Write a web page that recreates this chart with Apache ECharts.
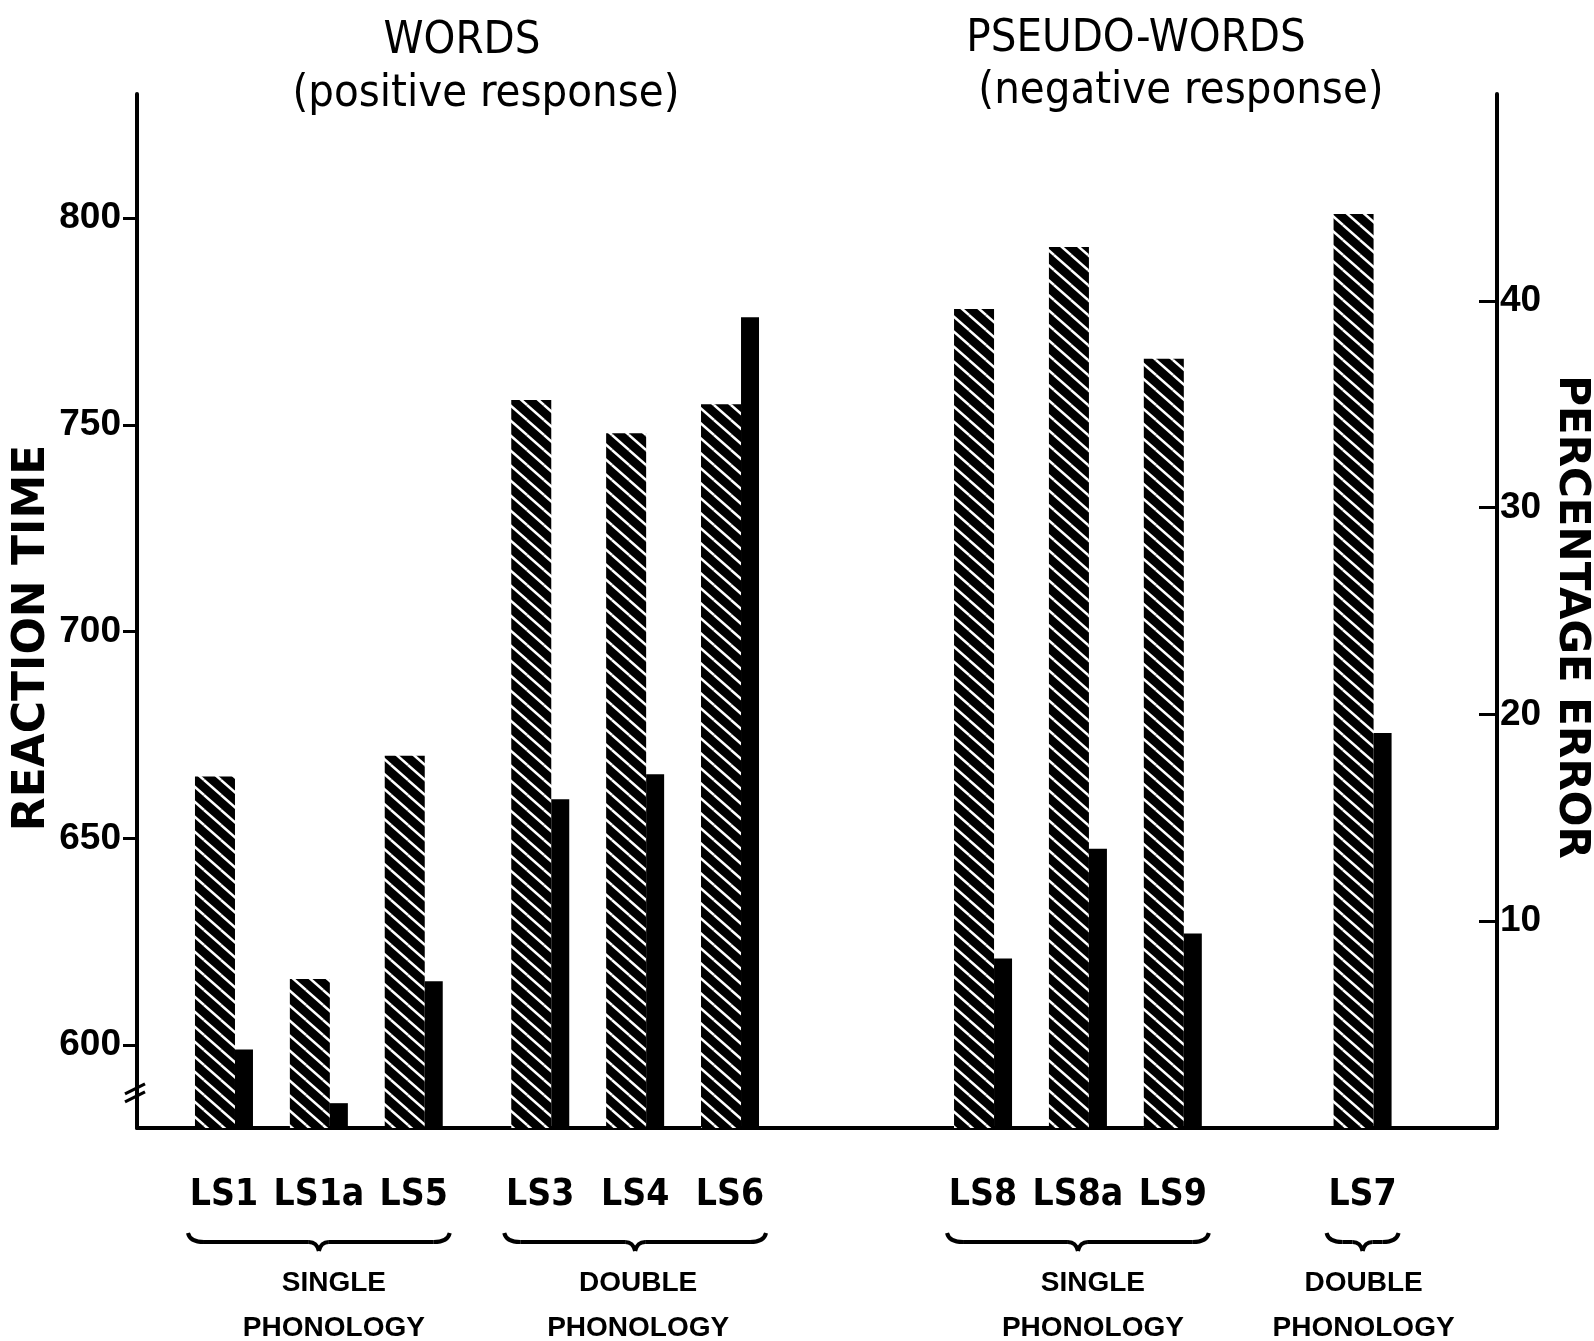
<!DOCTYPE html>
<html><head><meta charset="utf-8">
<script src="https://cdn.jsdelivr.net/npm/echarts@6/dist/echarts.min.js"></script>
<style>html,body{margin:0;padding:0;background:#fff}#c{width:1594px;height:1341px}</style>
</head><body><div id="c"></div>
<script>
// ---- data ----
const categories = ['LS1','LS1a','LS5','LS3','LS4','LS6','LS8','LS8a','LS9','LS7'];
const reactionTime = [665, 616, 670, 756, 748, 755, 778, 793, 766, 801];
const percentError = [3.8, 1.2, 7.1, 15.9, 17.1, 39.2, 8.2, 13.5, 9.4, 19.1];
const leftTicks = [600, 650, 700, 750, 800];
const rightTicks = [10, 20, 30, 40];
const leftAxisTitle = 'REACTION TIME';
const rightAxisTitle = 'PERCENTAGE ERROR';
const panelTitles = [['WORDS', '(positive response)'], ['PSEUDO-WORDS', '(negative response)']];
const groupNames = [['SINGLE', 'PHONOLOGY'], ['DOUBLE', 'PHONOLOGY'], ['SINGLE', 'PHONOLOGY'], ['DOUBLE', 'PHONOLOGY']];
const groupMembers = [['LS1', 'LS5'], ['LS3', 'LS6'], ['LS8', 'LS9'], ['LS7', 'LS7']];

// ---- layout (empty category slots between bars) ----
const leadSlots = 5, trailSlots = 8;
const stepSlots = [6, 6, 8, 6, 6, 16, 6, 6, 12];
const groupLabelShift = [15, 3, 15, 1];

const axisData = [], rtData = [], peData = [], catIndex = {};
let filler = 0;
function addFiller(n) { for (let i = 0; i < n; i++) { axisData.push('_' + (filler++)); rtData.push('-'); peData.push('-'); } }
addFiller(leadSlots);
categories.forEach((c, k) => {
  catIndex[c] = axisData.length;
  axisData.push(c); rtData.push(reactionTime[k]); peData.push(percentError[k]);
  addFiller(k < stepSlots.length ? stepSlots[k] - 1 : trailSlots);
});

// hatch pattern
const pw = 17, ph = 15;
const pat = document.createElement('canvas');
pat.width = pw; pat.height = ph;
const g = pat.getContext('2d');
g.fillStyle = '#000'; g.fillRect(0, 0, pw, ph);
g.strokeStyle = '#fff'; g.lineWidth = 2.5;
for (let dx = -1; dx <= 1; dx++) for (let dy = -1; dy <= 1; dy++) {
  g.beginPath(); g.moveTo(dx * pw, dy * ph); g.lineTo((dx + 1) * pw, (dy + 1) * ph); g.stroke();
}

const tickFont = { fontFamily: '"Liberation Sans", Arial, sans-serif', fontSize: 37, fontWeight: 'bold', color: '#000' };
const narrowFam = '"Liberation Sans Narrow", "DejaVu Sans Condensed", "Liberation Sans", sans-serif';

const chart = echarts.init(document.getElementById('c'), null, { renderer: 'canvas' });
chart.setOption({
  animation: false,
  backgroundColor: '#fff',
  grid: { left: 137, right: 97, top: 94, bottom: 213 },
  xAxis: {
    type: 'category', data: axisData, boundaryGap: true,
    axisLine: { show: true, lineStyle: { color: '#000', width: 4 } },
    axisTick: { show: false },
    axisLabel: {
      interval: 0, margin: 49, fontFamily: narrowFam, fontSize: 37, fontWeight: 'bold', color: '#000',
      formatter: v => v.charAt(0) === '_' ? '' : v
    },
    splitLine: { show: false }
  },
  yAxis: [
    {
      type: 'value', min: 580, max: 830, position: 'left',
      axisLine: { show: true, lineStyle: { color: '#000', width: 4 } },
      axisTick: { show: true, customValues: leftTicks, length: 14, lineStyle: { color: '#000', width: 3 } },
      axisLabel: Object.assign({ customValues: leftTicks, margin: 16 }, tickFont),
      splitLine: { show: false }
    },
    {
      type: 'value', min: 0, max: 50, position: 'right',
      axisLine: { show: true, lineStyle: { color: '#000', width: 4 } },
      axisTick: { show: true, inside: true, customValues: rightTicks, length: 18, lineStyle: { color: '#000', width: 3 } },
      axisLabel: Object.assign({ customValues: rightTicks, margin: 3 }, tickFont),
      splitLine: { show: false }
    }
  ],
  series: [
    {
      name: 'Reaction time', type: 'bar', yAxisIndex: 0, data: rtData,
      barWidth: 40, barGap: '0%',
      itemStyle: { color: { image: pat, repeat: 'repeat' } }
    },
    {
      name: 'Percentage error', type: 'bar', yAxisIndex: 1, data: peData,
      barWidth: 18, barGap: '0%',
      itemStyle: { color: '#000' }
    }
  ]
});

// decorations computed from the chart's own scales
const px = i => chart.convertToPixel({ xAxisIndex: 0 }, i);
const yBase = chart.convertToPixel({ yAxisIndex: 0 }, 580);
const xLeft = chart.convertToPixel({ xAxisIndex: 0 }, 0) - (px(1) - px(0)) / 2;
const els = [];

function brace(xL, xR, y0) {
  const mid = (xL + xR) / 2, st = { stroke: '#000', lineWidth: 4, fill: null };
  els.push({ type: 'bezierCurve', shape: { x1: xL, y1: y0 - 9, cpx1: xL + 2, cpy1: y0, x2: xL + 16, y2: y0 }, style: st });
  els.push({ type: 'line', shape: { x1: xL + 16, y1: y0, x2: mid - 10, y2: y0 }, style: st });
  els.push({ type: 'bezierCurve', shape: { x1: mid - 10, y1: y0, cpx1: mid - 2, cpy1: y0, x2: mid, y2: y0 + 9 }, style: st });
  els.push({ type: 'bezierCurve', shape: { x1: mid, y1: y0 + 9, cpx1: mid + 2, cpy1: y0, x2: mid + 10, y2: y0 }, style: st });
  els.push({ type: 'line', shape: { x1: mid + 10, y1: y0, x2: xR - 16, y2: y0 }, style: st });
  els.push({ type: 'bezierCurve', shape: { x1: xR - 16, y1: y0, cpx1: xR - 2, cpy1: y0, x2: xR, y2: y0 - 9 }, style: st });
}

groupMembers.forEach((m, k) => {
  const xa = px(catIndex[m[0]]) - 36, xb = px(catIndex[m[1]]) + 36;
  brace(xa, xb, yBase + 114);
  const mid = (xa + xb) / 2 + groupLabelShift[k];
  groupNames[k].forEach((t, j) => {
    els.push({ type: 'text', x: mid, y: yBase + 155 + j * 45, style: {
      text: t, fontFamily: '"Liberation Sans", Arial, sans-serif', fontSize: 28, fontWeight: 'bold',
      fill: '#000', align: 'center', verticalAlign: 'middle' } });
  });
});

// axis break on left axis
const yb = chart.convertToPixel({ yAxisIndex: 0 }, 588.5);
els.push({ type: 'rect', shape: { x: xLeft - 4, y: yb - 4, width: 8, height: 8 }, style: { fill: '#fff' } });
els.push({ type: 'line', shape: { x1: xLeft - 12, y1: yb + 1, x2: xLeft + 8, y2: yb - 9 }, style: { stroke: '#000', lineWidth: 3 } });
els.push({ type: 'line', shape: { x1: xLeft - 12, y1: yb + 9, x2: xLeft + 8, y2: yb - 1 }, style: { stroke: '#000', lineWidth: 3 } });

// panel titles
const titlePos = [[462, 41, 486, 94], [1136, 39, 1181, 91]];
panelTitles.forEach((t, k) => {
  const p = titlePos[k];
  els.push({ type: 'text', x: p[0], y: p[1], style: { text: t[0], fontFamily: narrowFam, fontSize: 45, fill: '#000', align: 'center', verticalAlign: 'middle' } });
  els.push({ type: 'text', x: p[2], y: p[3], style: { text: t[1], fontFamily: narrowFam, fontSize: 45, fill: '#000', align: 'center', verticalAlign: 'middle' } });
});

// axis titles
els.push({ type: 'text', x: 33, y: 638, rotation: Math.PI / 2, style: { text: leftAxisTitle, fontFamily: '"DejaVu Sans", sans-serif', fontSize: 44, fontWeight: 'bold', fill: '#000', align: 'center', verticalAlign: 'middle' } });
els.push({ type: 'text', x: 1571, y: 617, rotation: -Math.PI / 2, style: { text: rightAxisTitle, fontFamily: '"DejaVu Sans", sans-serif', fontSize: 42, fontWeight: 'bold', fill: '#000', align: 'center', verticalAlign: 'middle' } });

chart.setOption({ graphic: { elements: els } });
</script>
</body></html>
